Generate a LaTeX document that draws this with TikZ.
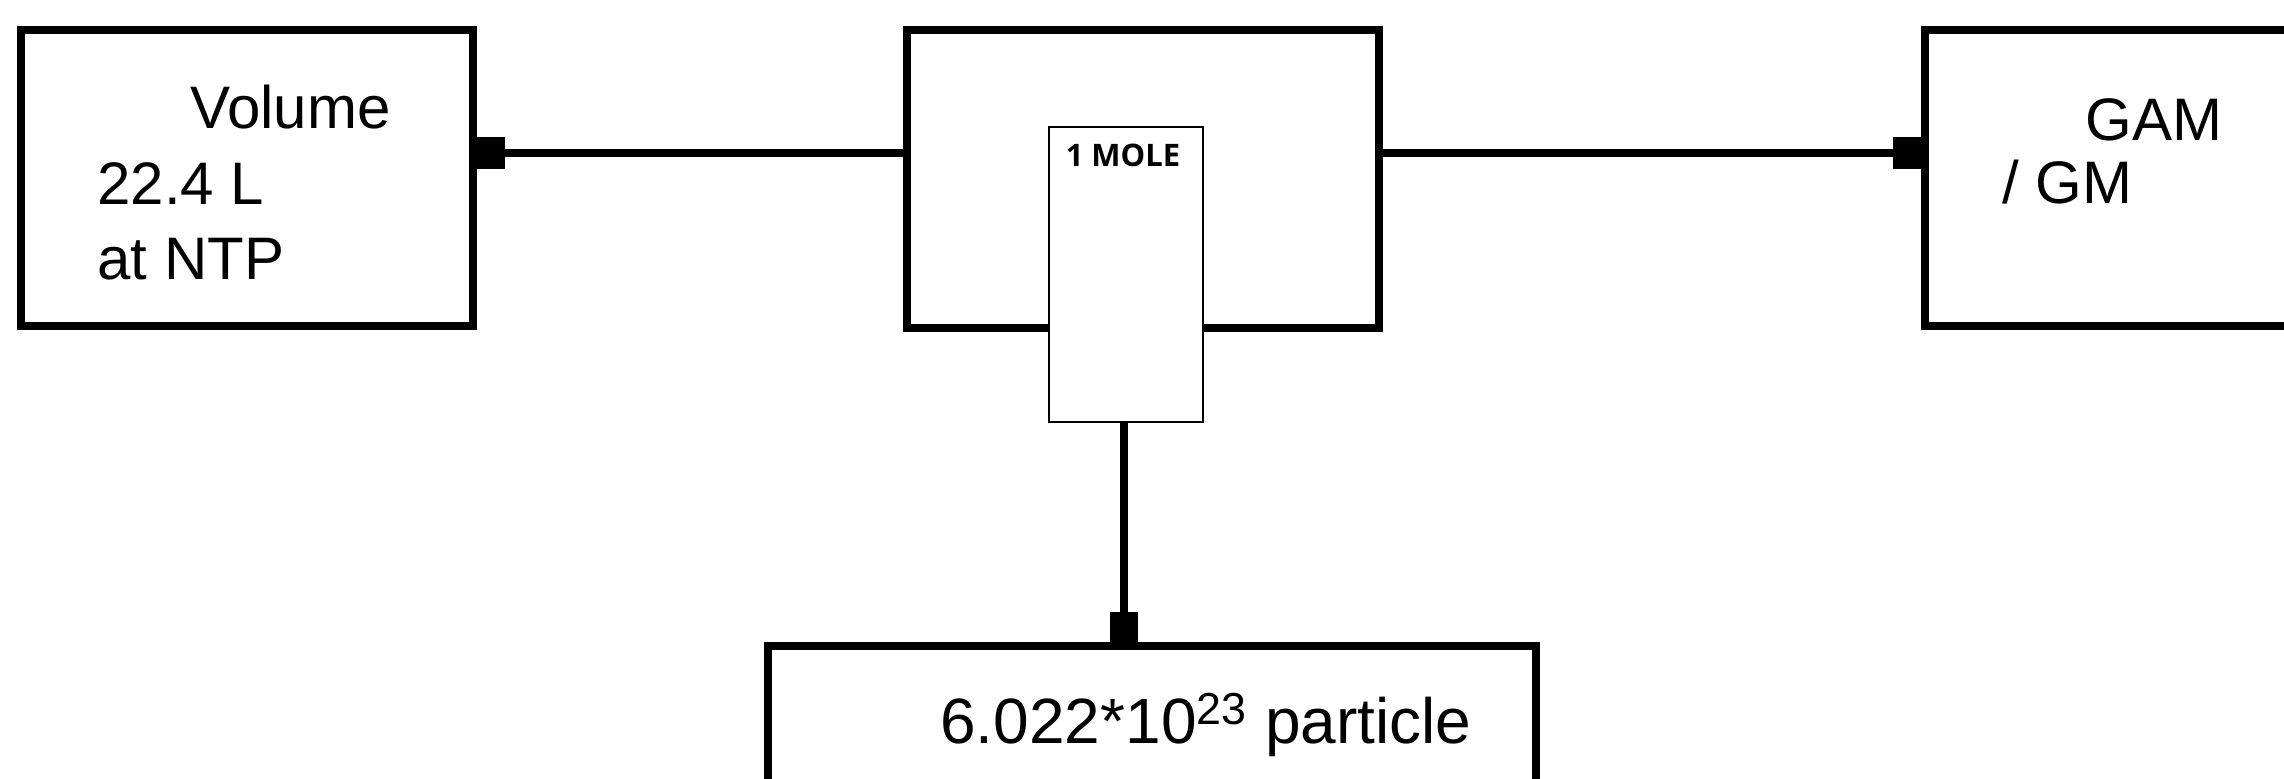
\documentclass[tikz,border=0pt]{standalone}
\usepackage{fontspec}
\setmainfont{Liberation Sans}
\newfontfamily\boldlabel{Open Sans}
\begin{document}
\begin{tikzpicture}[x=0.5pt,y=-0.5pt,
  bigbox/.style={draw=black,line width=4pt,fill=white,inner sep=0pt,rectangle},
  smallbox/.style={draw=black,line width=1pt,fill=white,inner sep=0pt,rectangle,minimum width=77pt,minimum height=147.5pt},
  sq/.style={fill=black,draw=none,inner sep=0pt,minimum width=14pt,minimum height=16pt},
  conn/.style={line width=3.8pt,draw=black},
  lbl/.style={anchor=base west,inner sep=0pt,font=\fontsize{30pt}{36pt}\selectfont}]
\useasboundingbox (0,0) rectangle (2284,778);
% boxes
\node[bigbox,minimum width=226pt,minimum height=148pt] (lbox) at (247,178) {};
\node[bigbox,minimum width=236pt,minimum height=149pt] (mbox) at (1143,179) {};
\node[bigbox,minimum width=226pt,minimum height=148pt] (rbox) at (2151,178) {};
\node[bigbox,minimum width=384pt,minimum height=148pt] (bbox) at (1152,794) {};
\node[smallbox] (sbox) at (1126,274.5) {};
% squares
\node[sq] (s1) at (490.5,153) {};
\node[sq] (s2) at (1907,153) {};
\node[sq] (s3) at (1124,628) {};
% connectors
\draw[conn] (s1.east) -- (mbox.west |- s1);
\draw[conn] (mbox.east |- s2) -- (s2.west);
\draw[conn] (sbox.south -| s3) -- (s3.north);
% texts
\node[lbl] (t1) at (190,128) {Volume};
\node[lbl] (t2) at (97,204) {22.4 L};
\node[lbl] (t3) at (97,279) {at NTP};
\node[lbl] (t4) at (2085,140) {GAM};
\node[lbl] (t5) at (2002,203) {/ GM};
\node[lbl,font=\fontsize{32pt}{38pt}\selectfont] (t6) at (940,743) {6.022*10\textsuperscript{23} particle};
\node[anchor=base,inner sep=0pt,font=\boldlabel\bfseries\fontsize{15.5pt}{18pt}\selectfont] (t7) at (1123,166) {1 MOLE};
\end{tikzpicture}
\end{document}
